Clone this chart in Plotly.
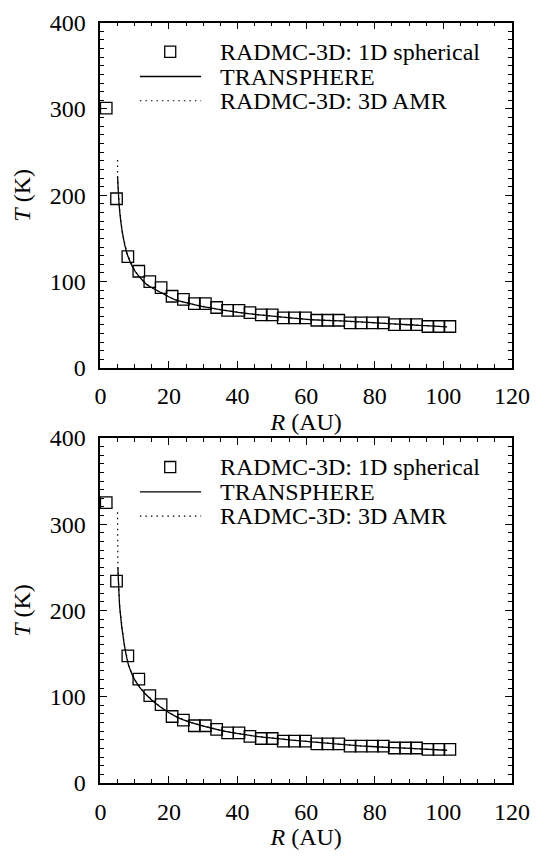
import plotly.graph_objects as go

W, H = 551, 857

# ---- data -------------------------------------------------------------
# radial grid of the 1D spherical RADMC-3D model (AU)
r_1d = [1.7, 4.7, 8.0, 11.2, 14.4, 17.7, 20.9, 24.2, 27.4, 30.6, 33.9, 37.1,
        40.4, 43.6, 46.9, 50.1, 53.3, 56.6, 59.8, 63.1, 66.3, 69.5, 72.8, 76.0,
        79.3, 82.5, 85.7, 89.0, 92.2, 95.5, 98.7, 101.9]

# dust temperatures (K), upper model
t_1d_a = [301, 196, 129, 112, 100, 93, 83, 79.5, 74.5, 74.5, 70, 66.7,
          66.7, 64, 61.4, 61.4, 58, 58, 58, 55.2, 55.2, 55.2, 52.2, 52.2,
          52.2, 52.2, 50.2, 50.2, 50.2, 48, 48, 48]
# dust temperatures (K), lower model
t_1d_b = [325, 234, 147.4, 120.4, 101.2, 90.7, 77, 72.7, 66.3, 66.3, 62, 58,
          58, 54, 51.5, 51.5, 48.4, 48.4, 48.4, 45.2, 45.2, 45.2, 42.6, 42.6,
          42.6, 42.6, 40.5, 40.5, 40.5, 38.8, 38.8, 38.8]

# TRANSPHERE profiles
r_ts_a = [5.0, 5.5, 6.4, 7.8, 10.1, 13.4, 17.3, 21.7, 28.2, 35.7, 45.0,
          54.2, 61.0, 68.0, 75.6, 83.0, 90.0, 96.0, 101.1]
t_ts_a = [222, 187, 157, 132, 112, 97, 88, 79, 72.5, 67, 62,
          58.4, 56, 54.8, 53.4, 51.5, 50, 48.7, 47.5]
r_ts_b = [5.1, 5.65, 6.9, 8.25, 10.1, 12.9, 17.5, 22.2, 26.8, 36.1, 45.4,
          55.0, 65.0, 75.6, 85.0, 93.0, 101.1]
t_ts_b = [250, 203, 162, 136, 119, 104, 88, 76.5, 69.5, 60, 54,
          50, 46.5, 43, 41, 39.5, 37.9]

# RADMC-3D 3D AMR profiles
r_amr_a = [5.0, 5.0, 5.5, 6.4, 7.8, 10.1, 13.4, 17.3, 21.7, 28.2, 35.7, 45.0,
           54.2, 61.0, 68.0, 75.6, 83.0, 90.0, 96.0, 101.1]
t_amr_a = [241, 222, 187, 157, 132, 112, 97, 88, 79, 72.5, 67, 62,
           58.4, 56, 54.8, 53.4, 51.5, 50, 48.7, 47.5]
r_amr_b = [5.0, 5.1, 5.65, 6.9, 8.25, 10.1, 12.9, 17.5, 22.2, 26.8, 36.1, 45.4,
           55.0, 65.0, 75.6, 85.0, 93.0, 101.1]
t_amr_b = [314, 250, 203, 162, 136, 119, 104, 88, 76.5, 69.5, 60, 54,
           50, 46.5, 43, 41, 39.5, 37.9]

x_ticks = [0, 20, 40, 60, 80, 100, 120]
y_ticks = [0, 100, 200, 300, 400]
legend_labels = ["RADMC-3D: 1D spherical", "TRANSPHERE", "RADMC-3D: 3D AMR"]

# ---- layout geometry (pixels) ------------------------------------------
FONT = "Liberation Serif"
FS = 24
FS_LEG = 24
X0, X1 = 98.7, 529.0
PANELS = [(10.0, 366.0), (438.3, 794.0)]


def px(x):
    return x / W


def py(y):
    return 1 - y / H


fig = go.Figure()

panel_data = [
    (r_1d, t_1d_a, r_ts_a, t_ts_a, r_amr_a, t_amr_a),
    (r_1d, t_1d_b, r_ts_b, t_ts_b, r_amr_b, t_amr_b),
]

shapes = []
annotations = []

for i, (rs, ts, rt, tt, ra, ta) in enumerate(panel_data):
    xa = "x" if i == 0 else f"x{i + 1}"
    ya = "y" if i == 0 else f"y{i + 1}"
    fig.add_trace(go.Scatter(
        x=ra, y=ta, xaxis=xa, yaxis=ya, mode="lines",
        line=dict(color="black", width=1.2, dash="1.5px,4px"),
        showlegend=False))
    fig.add_trace(go.Scatter(
        x=rt, y=tt, xaxis=xa, yaxis=ya, mode="lines",
        line=dict(color="black", width=1.3, shape="spline", smoothing=0.6),
        showlegend=False))
    fig.add_trace(go.Scatter(
        x=rs, y=ts, xaxis=xa, yaxis=ya, mode="markers",
        marker=dict(symbol="square-open", size=11.5, color="black",
                    line=dict(width=1.3, color="black")),
        showlegend=False, cliponaxis=False))

    top, bot = PANELS[i]
    axis_common = dict(
        showline=True, linecolor="black", linewidth=1.6, mirror="ticks",
        ticks="inside", ticklen=7, tickwidth=1.3, tickcolor="black",
        showgrid=False, zeroline=False,
        tickfont=dict(family=FONT, size=FS, color="black"),
        minor=dict(ticks="inside", ticklen=4, tickwidth=1.1, tickcolor="black",
                   showgrid=False),
    )
    xkey = "xaxis" if i == 0 else f"xaxis{i + 1}"
    ykey = "yaxis" if i == 0 else f"yaxis{i + 1}"
    fig.update_layout(**{
        xkey: dict(
            axis_common, domain=[px(X0), px(X1)], range=[0, 120],
            anchor=ya, tickvals=x_ticks, ticktext=[str(v) for v in x_ticks],
            minor_dtick=5, minor_tick0=0, ticklabelstandoff=6,
            title=dict(text="<i>R</i> (AU)", standoff=0,
                       font=dict(family=FONT, size=FS, color="black"))),
        ykey: dict(
            axis_common, domain=[py(bot), py(top)], range=[0, 400],
            anchor=xa, tickvals=y_ticks, ticktext=[str(v) for v in y_ticks],
            minor_dtick=10, minor_tick0=0, ticklabelstandoff=8,
            title=dict(text="<i>T</i> (K)", standoff=12,
                       font=dict(family=FONT, size=FS, color="black"))),
    })

    # legend box drawn in page coordinates
    dy = top - PANELS[0][0]
    rows = [40 + dy, 65.5 + dy, 90.5 + dy]
    half = 5.75
    shapes.append(dict(type="rect", xref="paper", yref="paper",
                       x0=px(171.7 - half), x1=px(171.7 + half),
                       y0=py(rows[0] + half), y1=py(rows[0] - half),
                       line=dict(color="black", width=1.3)))
    shapes.append(dict(type="line", xref="paper", yref="paper",
                       x0=px(140), x1=px(204), y0=py(rows[1]), y1=py(rows[1]),
                       line=dict(color="black", width=1.3)))
    shapes.append(dict(type="line", xref="paper", yref="paper",
                       x0=px(140), x1=px(204), y0=py(rows[2]), y1=py(rows[2]),
                       line=dict(color="black", width=1.2, dash="1.5px,4px")))
    for lab, yy in zip(legend_labels, rows):
        annotations.append(dict(
            text=lab, xref="paper", yref="paper", x=px(222), y=py(yy),
            xanchor="left", yanchor="middle", showarrow=False,
            font=dict(family=FONT, size=FS_LEG, color="black")))

fig.update_layout(
    width=W, height=H, margin=dict(l=0, r=0, t=0, b=0),
    font=dict(family=FONT, size=FS, color="black"),
    paper_bgcolor="white", plot_bgcolor="white",
    shapes=shapes, annotations=annotations, showlegend=False,
)

fig.write_html("out.html")
